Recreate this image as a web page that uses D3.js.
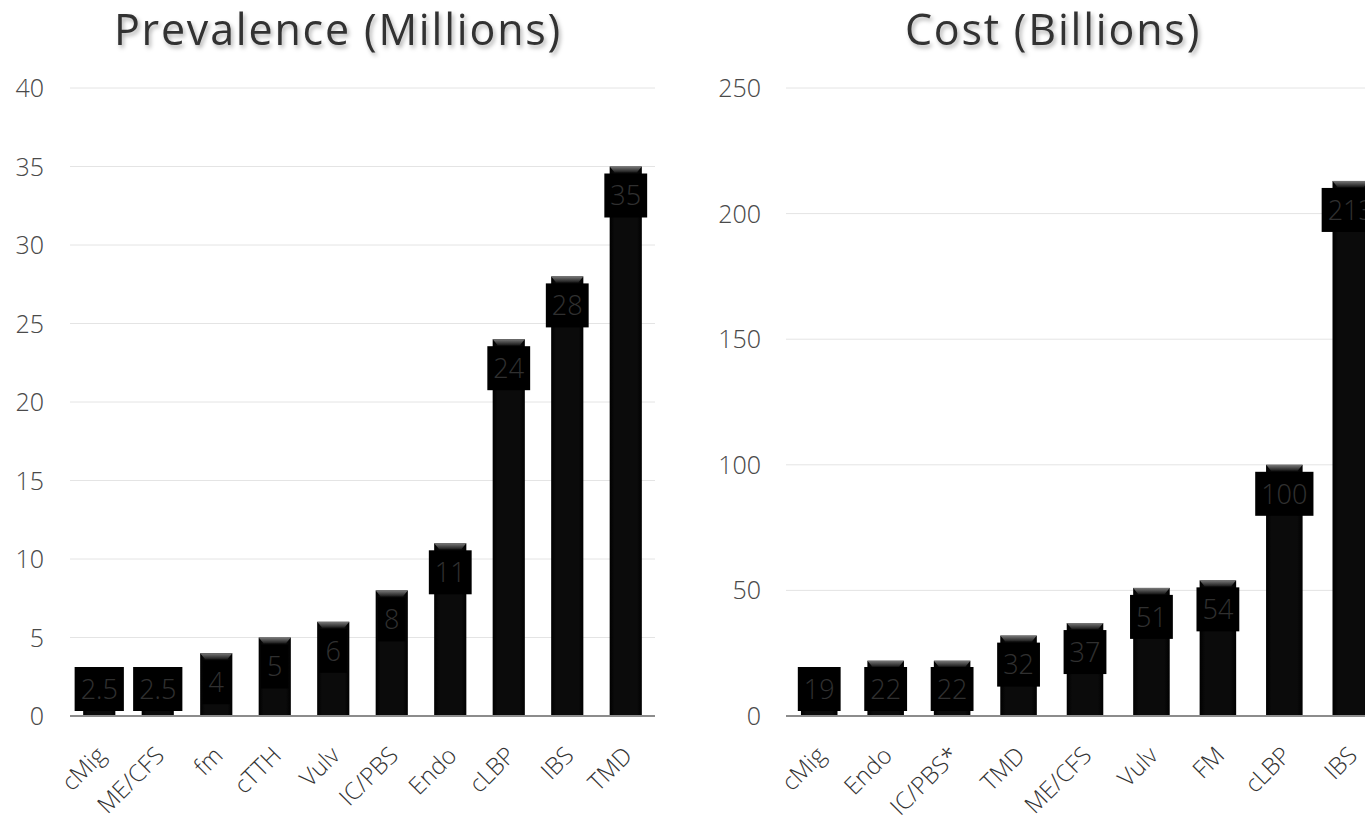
<!DOCTYPE html>
<html lang="en">
<head>
<meta charset="utf-8">
<title>Prevalence and Cost</title>
<script src="https://d3js.org/d3.v7.min.js"></script>
<style>
  body { margin: 0; background: #fff; }
  svg text { font-family: "Open Sans Light", "Lato Light", "Open Sans", sans-serif; }
  svg text.title { font-family: "Open Sans", sans-serif; }
</style>
</head>
<body>
<div id="chart"></div>
<script>
// values
var prevCats = ["cMig", "ME/CFS", "fm", "cTTH", "Vulv", "IC/PBS", "Endo", "cLBP", "IBS", "TMD"];
var prevVals = [2.5, 2.5, 4, 5, 6, 8, 11, 24, 28, 35];
var prevTicks = [0, 5, 10, 15, 20, 25, 30, 35, 40];

var costCats = ["cMig", "Endo", "IC/PBS*", "TMD", "ME/CFS", "Vulv", "FM", "cLBP", "IBS"];
var costVals = [19, 22, 22, 32, 37, 51, 54, 100, 213];
var costTicks = [0, 50, 100, 150, 200, 250];

var W = 1365, H = 819;
var svg = d3.select("#chart").append("svg")
    .attr("width", W).attr("height", H);

var defs = svg.append("defs");
var bev = defs.append("linearGradient").attr("id", "bevel")
    .attr("x1", 0).attr("y1", 0).attr("x2", 0).attr("y2", 1);
bev.append("stop").attr("offset", "0%").attr("stop-color", "#7a7a7a");
bev.append("stop").attr("offset", "100%").attr("stop-color", "#1a1a1a");

var body = defs.append("linearGradient").attr("id", "barbody")
    .attr("x1", 0).attr("y1", 0).attr("x2", 1).attr("y2", 0);
body.append("stop").attr("offset", "0%").attr("stop-color", "#000");
body.append("stop").attr("offset", "15%").attr("stop-color", "#0b0b0b");
body.append("stop").attr("offset", "85%").attr("stop-color", "#0b0b0b");
body.append("stop").attr("offset", "100%").attr("stop-color", "#000");

var shadow = defs.append("filter").attr("id", "tshadow")
    .attr("x", "-10%").attr("y", "-20%").attr("width", "120%").attr("height", "160%");
shadow.append("feDropShadow").attr("dx", 2).attr("dy", 3).attr("stdDeviation", 2)
    .attr("flood-color", "#000").attr("flood-opacity", 0.3);

function drawChart(cats, vals, ticks, opt) {
    var x = d3.scaleBand()
        .domain(cats)
        .range([opt.x0, opt.x1])
        .paddingInner(0.45)
        .paddingOuter(0.225);
    var y = d3.scaleLinear()
        .domain([0, opt.max])
        .range([716, 88]);

    var g = svg.append("g");

    // title
    g.append("text")
        .attr("class", "title")
        .attr("x", opt.titleX).attr("y", 45)
        .attr("text-anchor", "middle")
        .attr("font-size", 43)
        .attr("letter-spacing", 1.8)
        .attr("fill", "#333")
        .attr("filter", "url(#tshadow)")
        .text(opt.title);

    // gridlines
    g.append("g").selectAll("line")
        .data(ticks.filter(function(t) { return t > 0; }))
        .enter().append("line")
        .attr("x1", opt.x0).attr("x2", opt.gridEnd)
        .attr("y1", function(d) { return y(d); })
        .attr("y2", function(d) { return y(d); })
        .attr("stroke", "#e4e4e4").attr("stroke-width", 1);

    // y labels
    g.append("g").selectAll("text")
        .data(ticks)
        .enter().append("text")
        .attr("x", opt.tickX)
        .attr("y", function(d) { return y(d); })
        .attr("dy", "0.36em")
        .attr("text-anchor", "end")
        .attr("font-size", 25)
        .attr("font-weight", 300)
        .attr("fill", "#4a4a4a")
        .text(function(d) { return d; });

    var bars = g.append("g").selectAll("g")
        .data(cats.map(function(c, i) { return {cat: c, val: vals[i]}; }))
        .enter().append("g");

    bars.append("rect")
        .attr("x", function(d) { return x(d.cat); })
        .attr("y", function(d) { return y(d.val); })
        .attr("width", x.bandwidth())
        .attr("height", function(d) { return y(0) - y(d.val); })
        .attr("fill", "url(#barbody)");

    // bevelled top edge
    bars.append("path")
        .attr("d", function(d) {
            var l = x(d.cat), r = l + x.bandwidth(), t = y(d.val);
            return "M" + l + "," + t + "L" + r + "," + t +
                "L" + (r - 5) + "," + (t + 6) + "L" + (l + 5) + "," + (t + 6) + "Z";
        })
        .attr("fill", "url(#bevel)");

    // data label boxes
    var lab = bars.append("g")
        .attr("transform", function(d) {
            var cy = Math.min(y(d.val) + 29, 689);
            return "translate(" + (x(d.cat) + x.bandwidth() / 2) + "," + cy + ")";
        });
    var txt = lab.append("text")
        .attr("text-anchor", "middle")
        .attr("dy", "0.36em")
        .attr("font-size", 27)
        .attr("font-weight", 300)
        .attr("fill", "#303030")
        .text(function(d) { return d.val; });
    txt.each(function() {
        var w = this.getComputedTextLength() + 12;
        d3.select(this.parentNode).insert("rect", "text")
            .attr("x", -w / 2).attr("y", -22)
            .attr("width", w).attr("height", 44)
            .attr("fill", "#000");
    });

    // baseline
    g.append("line")
        .attr("x1", opt.x0).attr("x2", opt.gridEnd)
        .attr("y1", y(0)).attr("y2", y(0))
        .attr("stroke", "#8c8c8c").attr("stroke-width", 2);

    // category labels
    g.append("g").selectAll("text")
        .data(cats)
        .enter().append("text")
        .attr("transform", function(d) {
            return "translate(" + (x(d) + x.bandwidth() / 2 + 2) + ",751) rotate(-45)";
        })
        .attr("text-anchor", "end")
        .attr("dy", "0.35em")
        .attr("font-size", 24)
        .attr("font-weight", 300)
        .attr("fill", "#333")
        .text(function(d) { return d; });
}

drawChart(prevCats, prevVals, prevTicks, {
    x0: 70, x1: 655, gridEnd: 655, max: 40, tickX: 44,
    title: "Prevalence (Millions)", titleX: 338
});
drawChart(costCats, costVals, costTicks, {
    x0: 786, x1: 1384, gridEnd: 1365, max: 250, tickX: 761,
    title: "Cost (Billions)", titleX: 1053
});
</script>
</body>
</html>
